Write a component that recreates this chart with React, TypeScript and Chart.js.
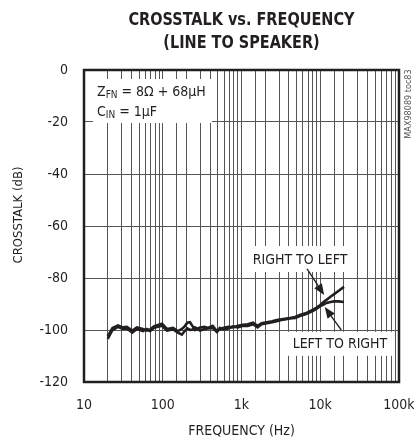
import React, { useEffect, useRef } from "react";
import { Chart, registerables } from "chart.js";

Chart.register(...registerables);

const titleLines = ["CROSSTALK vs. FREQUENCY", "(LINE TO SPEAKER)"];
const xAxisTitle = "FREQUENCY (Hz)";
const yAxisTitle = "CROSSTALK (dB)";
const xTickValues = [10, 100, 1000, 10000, 100000];
const xTickLabels = ["10", "100", "1k", "10k", "100k"];
const seriesNames = ["RIGHT TO LEFT", "LEFT TO RIGHT"];
const sideNote = "MAX98089 toc83";

const freqs = [
  20, 23, 27, 31, 35, 41, 47, 56, 63, 69,
  77, 85, 98, 113, 135, 156, 175, 190, 205, 222,
  240, 257, 297, 340, 374, 430, 487, 530, 580, 680,
  780, 900, 1040, 1200, 1400, 1600, 1800, 2100, 2450, 2800,
  3400, 4100, 4800, 5500, 6500, 8100, 9000, 10000, 11000, 12000,
  13500, 15000, 17000, 20000,
];

const rightToLeft = [
  -102.5, -99.2, -98.2, -99.0, -98.8, -100.2, -99.0, -99.6, -100.2, -99.8,
  -98.6, -98.2, -97.6, -99.6, -99.2, -100.4, -99.6, -98.6, -97.2, -97.0,
  -98.6, -100.0, -99.0, -98.8, -99.2, -98.4, -100.4, -99.8, -99.2, -98.8,
  -99.0, -98.4, -98.0, -97.8, -97.2, -98.4, -97.4, -97.0, -96.6, -96.2,
  -95.8, -95.4, -95.0, -94.2, -93.6, -92.2, -91.4, -90.4, -89.2, -88.4,
  -87.2, -86.2, -85.0, -83.4,
];

const leftToRight = [
  -103.4, -100.0, -98.8, -99.6, -99.4, -101.0, -99.6, -100.4, -99.6, -100.4,
  -99.2, -98.8, -98.4, -100.2, -99.8, -101.0, -101.8, -100.4, -99.4, -100.0,
  -99.8, -99.0, -100.2, -99.6, -99.4, -99.2, -100.8, -99.2, -99.8, -99.4,
  -98.6, -99.0, -98.4, -98.4, -97.8, -99.0, -97.8, -97.4, -97.0, -96.6,
  -96.0, -95.6, -95.4, -94.6, -94.0, -92.6, -91.8, -90.8, -90.2, -89.6,
  -89.2, -89.0, -89.0, -89.2,
];

const FONT =
  '"Liberation Sans Narrow", "DejaVu Sans Condensed", "Roboto Condensed", Roboto, sans-serif';
const INK = "#231f20";

function arrow(ctx: CanvasRenderingContext2D, x1: number, y1: number, x2: number, y2: number) {
  const ang = Math.atan2(y2 - y1, x2 - x1);
  const len = 11;
  const half = 4.5;
  ctx.save();
  ctx.strokeStyle = INK;
  ctx.fillStyle = INK;
  ctx.lineWidth = 1.3;
  ctx.beginPath();
  ctx.moveTo(x1, y1);
  ctx.lineTo(x2 - Math.cos(ang) * len, y2 - Math.sin(ang) * len);
  ctx.stroke();
  ctx.beginPath();
  ctx.moveTo(x2, y2);
  ctx.lineTo(
    x2 - Math.cos(ang) * len - Math.sin(ang) * half,
    y2 - Math.sin(ang) * len + Math.cos(ang) * half
  );
  ctx.lineTo(
    x2 - Math.cos(ang) * len + Math.sin(ang) * half,
    y2 - Math.sin(ang) * len - Math.cos(ang) * half
  );
  ctx.closePath();
  ctx.fill();
  ctx.restore();
}

function subText(
  ctx: CanvasRenderingContext2D,
  x: number,
  y: number,
  parts: Array<[string, boolean]>
) {
  let cx = x;
  for (const [t, sub] of parts) {
    ctx.font = sub ? `10px ${FONT}` : `14px ${FONT}`;
    ctx.fillText(t, cx, sub ? y + 3 : y);
    cx += ctx.measureText(t).width;
  }
}

function squeezedText(ctx: CanvasRenderingContext2D, text: string, x: number, y: number, sx: number) {
  ctx.save();
  ctx.translate(x, y);
  ctx.scale(sx, 1);
  ctx.fillText(text, 0, 0);
  ctx.restore();
}

const decorPlugin = {
  id: "decor",
  beforeDatasetsDraw(chart: any) {
    const { ctx, chartArea, scales } = chart;
    const xs = scales.x;
    const ys = scales.y;
    ctx.save();
    // white label boxes over the grid
    ctx.fillStyle = "#fff";
    ctx.fillRect(chartArea.left + 9, chartArea.top + 9, 119, 44);
    const r1x = xs.getPixelForValue(1210);
    const r1y = ys.getPixelForValue(-67.7);
    const r2x = xs.getPixelForValue(3890);
    const r2y = ys.getPixelForValue(-100.7);
    ctx.fillRect(r1x, r1y, 104, 26);
    ctx.fillRect(r2x, r2y, 104, 24);

    ctx.fillStyle = INK;
    ctx.textBaseline = "middle";
    ctx.textAlign = "left";
    subText(ctx, chartArea.left + 13, chartArea.top + 22, [
      ["Z", false],
      ["FN", true],
      [" = 8\u03A9 + 68\u03BCH", false],
    ]);
    subText(ctx, chartArea.left + 13, chartArea.top + 42, [
      ["C", false],
      ["IN", true],
      [" = 1\u03BCF", false],
    ]);
    ctx.font = `14px ${FONT}`;
    ctx.textAlign = "center";
    ctx.fillText(seriesNames[0], r1x + 52, r1y + 14);
    ctx.fillText(seriesNames[1], r2x + 52, r2y + 13);
    ctx.restore();
  },
  afterDatasetsDraw(chart: any) {
    const { ctx, chartArea, scales } = chart;
    const xs = scales.x;
    const ys = scales.y;
    arrow(
      ctx,
      xs.getPixelForValue(6800),
      ys.getPixelForValue(-76.5),
      xs.getPixelForValue(11200),
      ys.getPixelForValue(-86.5)
    );
    arrow(
      ctx,
      xs.getPixelForValue(18500),
      ys.getPixelForValue(-100),
      xs.getPixelForValue(11400),
      ys.getPixelForValue(-91.2)
    );
    ctx.save();
    ctx.strokeStyle = INK;
    ctx.lineWidth = 2.5;
    ctx.strokeRect(
      chartArea.left,
      chartArea.top,
      chartArea.right - chartArea.left,
      chartArea.bottom - chartArea.top
    );
    // title
    ctx.fillStyle = INK;
    ctx.textAlign = "center";
    ctx.textBaseline = "middle";
    ctx.font = `bold 18px ${FONT}`;
    const cx = (chartArea.left + chartArea.right) / 2;
    const w = ctx.measureText(titleLines[0]).width;
    const sx = Math.min(1, 226 / w);
    squeezedText(ctx, titleLines[0], cx, 20, sx);
    squeezedText(ctx, titleLines[1], cx, 43, sx);
    // y axis title
    ctx.save();
    ctx.translate(19, 215);
    ctx.rotate(-Math.PI / 2);
    ctx.font = `13px ${FONT}`;
    ctx.fillText(yAxisTitle, 0, 0);
    ctx.restore();
    // side note
    ctx.translate(409, 104);
    ctx.rotate(-Math.PI / 2);
    ctx.font = `9px ${FONT}`;
    ctx.fillStyle = "#555";
    ctx.fillText(sideNote, 0, 0);
    ctx.restore();
  },
};

export default function App() {
  const ref = useRef<HTMLCanvasElement | null>(null);
  useEffect(() => {
    if (!ref.current) return;
    const mk = (vals: number[]) => freqs.map((f, i) => ({ x: f, y: vals[i] }));
    const chart = new Chart(ref.current, {
      type: "line",
      data: {
        datasets: [
          {
            label: seriesNames[0],
            data: mk(rightToLeft),
            borderColor: INK,
            borderWidth: 2.6,
            pointRadius: 0,
            tension: 0,
            fill: false,
          },
          {
            label: seriesNames[1],
            data: mk(leftToRight),
            borderColor: INK,
            borderWidth: 2.6,
            pointRadius: 0,
            tension: 0,
            fill: false,
          },
        ],
      },
      options: {
        responsive: false,
        animation: false,
        devicePixelRatio: 1,
        layout: { padding: { top: 70, right: 15, left: 0, bottom: 0 } },
        plugins: {
          legend: { display: false },
          title: { display: false },
          tooltip: { enabled: false },
        },
        scales: {
          x: {
            type: "logarithmic",
            min: 10,
            max: 100000,
            afterFit: (s: any) => {
              s.height = 58;
              s.paddingLeft = 0;
              s.paddingRight = 0;
            },
            border: { display: false },
            grid: { color: "#555", lineWidth: 1, drawTicks: false },
            ticks: {
              autoSkip: false,
              maxRotation: 0,
              padding: 15,
              color: INK,
              font: { family: FONT, size: 14 },
              callback: (v: any) => {
                const i = xTickValues.indexOf(Number(v));
                return i >= 0 ? xTickLabels[i] : "";
              },
            },
            title: {
              display: true,
              text: xAxisTitle,
              color: INK,
              font: { family: FONT, size: 14 },
              padding: { top: 2, bottom: 0 },
            },
          },
          y: {
            min: -120,
            max: 0,
            afterFit: (s: any) => {
              s.width = 84;
              s.paddingTop = 0;
              s.paddingBottom = 0;
            },
            border: { display: false },
            grid: { color: "#555", lineWidth: 1, drawTicks: false },
            ticks: {
              stepSize: 20,
              padding: 16,
              color: INK,
              font: { family: FONT, size: 14 },
            },
            title: { display: false, text: yAxisTitle },
          },
        },
      },
      plugins: [decorPlugin],
    });
    return () => chart.destroy();
  }, []);
  return (
    <div style={{ position: "absolute", left: 0, top: 0, width: 414, height: 440, background: "#fff" }}>
      <canvas ref={ref} width={414} height={440} style={{ display: "block" }} />
    </div>
  );
}
